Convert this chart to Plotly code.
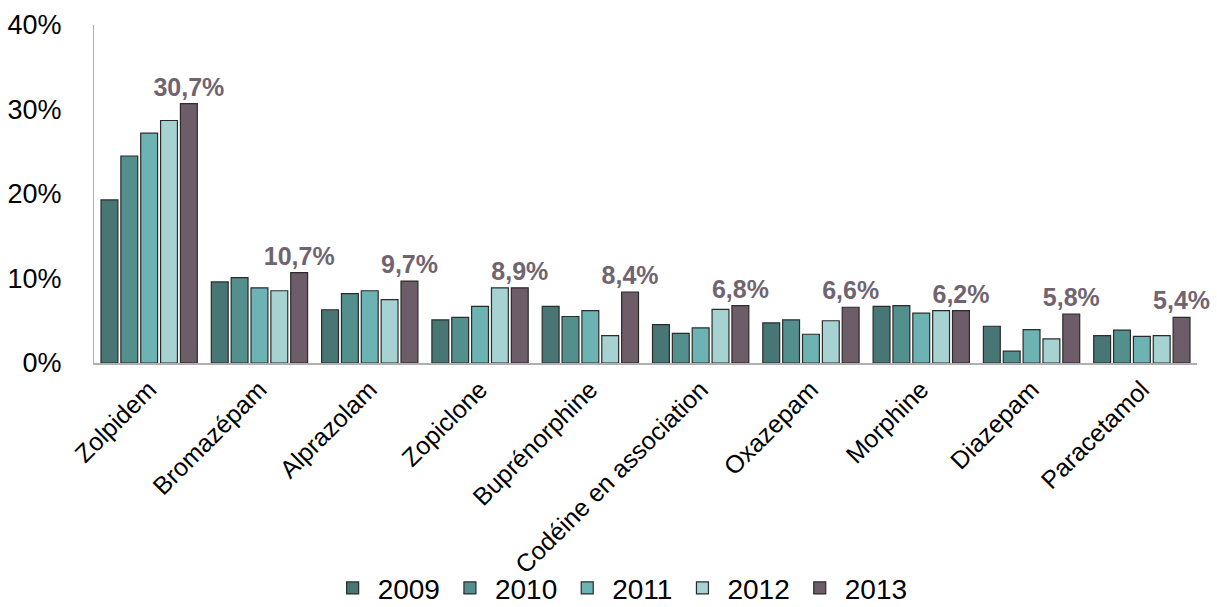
import plotly.graph_objects as go

categories = ["Zolpidem", "Bromazépam", "Alprazolam", "Zopiclone", "Buprénorphine",
              "Codéine en association", "Oxazepam", "Morphine", "Diazepam", "Paracetamol"]
years = ["2009", "2010", "2011", "2012", "2013"]
v2009 = [19.3, 9.6, 6.3, 5.1, 6.7, 4.55, 4.75, 6.7, 4.35, 3.25]
v2010 = [24.5, 10.1, 8.2, 5.4, 5.5, 3.5, 5.1, 6.8, 1.4, 3.9]
v2011 = [27.2, 8.9, 8.55, 6.7, 6.2, 4.15, 3.4, 5.9, 3.95, 3.15]
v2012 = [28.7, 8.55, 7.5, 8.9, 3.25, 6.35, 5.0, 6.2, 2.85, 3.25]
v2013 = [30.7, 10.7, 9.7, 8.9, 8.4, 6.8, 6.6, 6.2, 5.8, 5.4]

series = [v2009, v2010, v2011, v2012, v2013]
colors = ["#477674", "#538f8d", "#6db3b3", "#a6d2d2", "#6d5d69"]
FONT = "Liberation Sans, Arial, sans-serif"

fig = go.Figure()
for name, vals, col in zip(years, series, colors):
    is_last = name == "2013"
    fig.add_trace(go.Bar(
        x=categories,
        y=[v / 100 for v in vals],
        name=name,
        marker=dict(color=col, line=dict(color="#2b2b2b", width=1.2)),
        text=[f"{v:.1f}".replace(".", ",") + "%" for v in vals] if is_last else None,
        textposition="outside" if is_last else "none",
        textfont=dict(family=FONT, size=25, color="#6f6470", weight="bold"),
        constraintext="none",
        cliponaxis=False,
    ))

fig.update_layout(
    width=1217, height=607,
    margin=dict(l=94, r=20, t=25, b=244, autoexpand=False),
    paper_bgcolor="white", plot_bgcolor="white",
    barmode="group", bargap=0.1, bargroupgap=0.15,
    font=dict(family=FONT, color="#000000"),
    showlegend=True,
    legend=dict(orientation="h", x=0.477, xanchor="center", y=0.031, yanchor="middle",
                yref="container", font=dict(size=28, family=FONT), itemwidth=40,
                traceorder="normal", tracegroupgap=0, bgcolor="rgba(0,0,0,0)"),
)
fig.update_xaxes(
    tickangle=-45, tickfont=dict(size=25, family=FONT), showline=True,
    linecolor="#b0b0b0", linewidth=2, ticks="", showgrid=False, automargin=False,
)
fig.update_yaxes(
    range=[0, 0.4], tickvals=[0, 0.1, 0.2, 0.3, 0.4], tickformat=".0%",
    tickfont=dict(size=27, family=FONT), showline=True, linecolor="#b0b0b0",
    linewidth=1, showgrid=False, ticks="", ticklabelstandoff=26, zeroline=False,
    automargin=False,
)
fig.write_html("out.html")
